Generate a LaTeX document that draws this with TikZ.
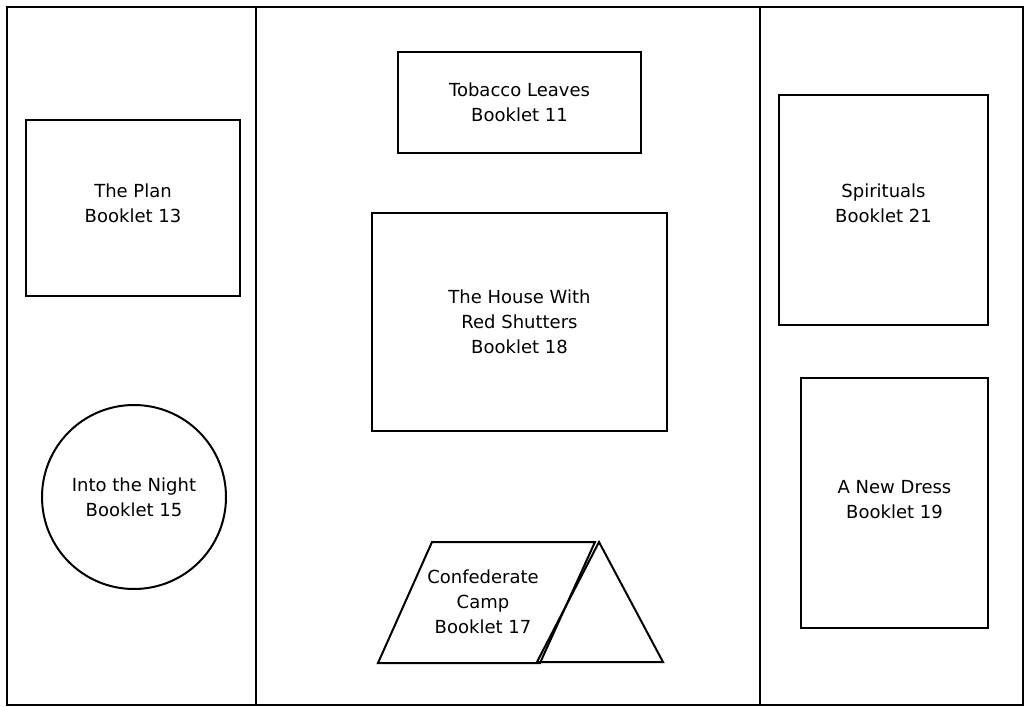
\documentclass[tikz,border=0pt]{standalone}
\usepackage{fontspec}
\setmainfont{DejaVu Sans}
\tikzset{
  booklet/.style={draw, line width=1.5pt, align=center, font=\fontsize{13.5}{18.75}\selectfont},
  boxed/.style={draw, line width=1.5pt, rectangle, inner sep=0pt},
  label/.style={align=center, font=\fontsize{13.5}{18.75}\selectfont}
}
\begin{document}
\begin{tikzpicture}[x=0.75pt, y=-0.75pt, line width=1.5pt]
  \useasboundingbox (0,0) rectangle (1026,707);
  % frame and panels
  \draw (7,7) rectangle (1023,705);
  \draw (256,7) -- (256,705);
  \draw (760,7) -- (760,705);
  % left panel
  \node[boxed, minimum width=160.5pt, minimum height=132pt] (plan) at (133,208) {};
  \node[label] (plantext) at (133,203) {The Plan\\Booklet 13};
  \node[booklet, circle, minimum size=138pt, inner sep=0pt] (night) at (134,497) {Into the Night\\Booklet 15};
  % middle panel
  \node[boxed, minimum width=182pt, minimum height=75.75pt] (tobacco) at (519.5,102.5) {};
  \node[label] (tobaccotext) at (519.5,102.5) {Tobacco Leaves\\Booklet 11};
  \node[boxed, minimum width=221pt, minimum height=163.5pt] (house) at (519.5,322) {};
  \node[label] (housetext) at (519.5,322) {The House With\\Red Shutters\\Booklet 18};
  \draw (432,542) -- (595,542) -- (540,663) -- (378,663) -- cycle;
  \draw (599,542) -- (663,662) -- (537,662) -- cycle;
  \node[label] (camp) at (483,602) {Confederate\\Camp\\Booklet 17};
  % right panel
  \node[boxed, minimum width=156.75pt, minimum height=172.5pt] (spirituals) at (883.5,210) {};
  \node[label] (spiritualstext) at (883.5,203.5) {Spirituals\\Booklet 21};
  \node[boxed, minimum width=140.25pt, minimum height=187.5pt] (dress) at (894.5,503) {};
  \node[label] (dresstext) at (894.5,500) {A New Dress\\Booklet 19};
\end{tikzpicture}
\end{document}
